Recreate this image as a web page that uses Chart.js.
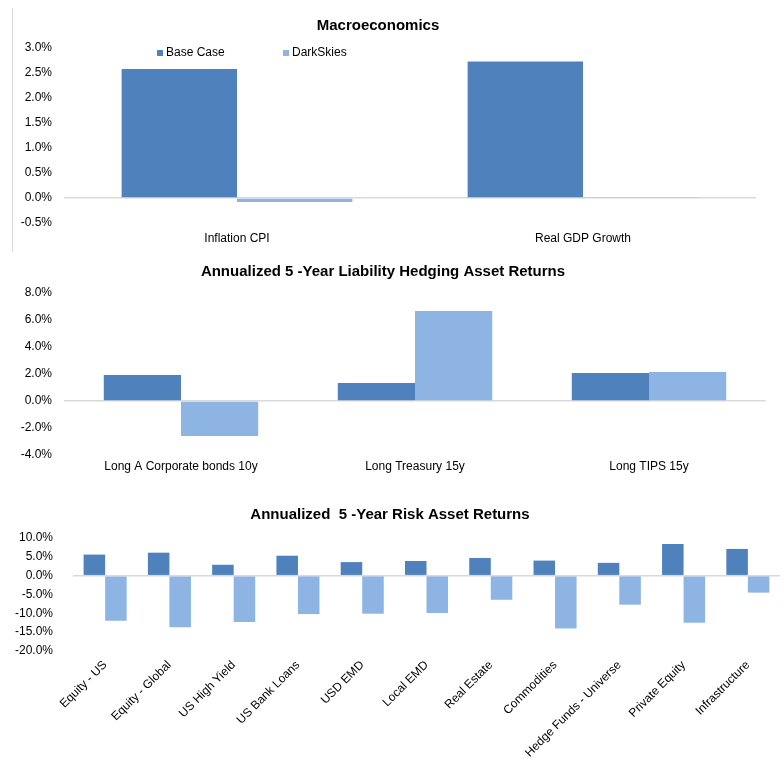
<!DOCTYPE html>
<html>
<head>
<meta charset="utf-8">
<script src="https://cdn.jsdelivr.net/npm/chart.js@4/dist/chart.umd.min.js"></script>
<style>
  html, body { margin: 0; padding: 0; background: #fff; }
  #wrap { position: relative; width: 784px; height: 760px; }
  .box { position: absolute; left: 0; width: 784px; }
  #leftRule { position: absolute; left: 12px; top: 8px; width: 1px; height: 244px; background: #d9d9d9; }
</style>
</head>
<body>
<div id="wrap">
  <div id="leftRule"></div>
  <div class="box" style="top:0;height:250px"><canvas id="macroChart"></canvas></div>
  <div class="box" style="top:250px;height:235px"><canvas id="hedgeChart"></canvas></div>
  <div class="box" style="top:490px;height:270px"><canvas id="riskChart"></canvas></div>
</div>
<script>
// 图例 / 系列名称
const seriesNames = ['Base Case', 'DarkSkies'];
const seriesColors = ['#4f81bd', '#8eb4e3'];

// Macroeconomics
const macroCategories = ['Inflation CPI', 'Real GDP Growth'];
const macroBase = [2.58, 2.73];
const macroDark = [-0.08, 0.02];

// Liability hedging asset returns
const hedgeCategories = ['Long A Corporate bonds 10y', 'Long Treasury 15y', 'Long TIPS 15y'];
const hedgeBase = [1.93, 1.33, 2.07];
const hedgeDark = [-2.6, 6.67, 2.15];

// Risk asset returns
const riskCategories = ['Equity - US', 'Equity - Global', 'US High Yield', 'US Bank Loans', 'USD EMD',
  'Local EMD', 'Real Estate', 'Commodities', 'Hedge Funds - Universe', 'Private Equity', 'Infrastructure'];
const riskBase = [5.6, 6.1, 2.9, 5.3, 3.6, 3.9, 4.7, 4.0, 3.4, 8.4, 7.1];
const riskDark = [-12.0, -13.7, -12.3, -10.2, -10.1, -9.9, -6.4, -14.0, -7.7, -12.5, -4.5];

const FONT = "'Liberation Sans Narrow', 'Arial Narrow', 'Liberation Sans', Arial, sans-serif";
Chart.defaults.font.family = FONT;
Chart.defaults.color = '#000';

// 图例画在绘图区内部（左上方）
const insideLegend = {
  id: 'insideLegend',
  afterDraw(chart, args, opts) {
    if (!opts.show) return;
    const ctx = chart.ctx;
    const y = chart.chartArea.top + 5;
    ctx.save();
    ctx.font = '12px ' + FONT;
    ctx.textBaseline = 'middle';
    chart.data.datasets.forEach((ds, i) => {
      const x = opts.x[i];
      ctx.fillStyle = ds.backgroundColor;
      ctx.fillRect(x, y - 3, 6, 6);
      ctx.fillStyle = '#000';
      ctx.fillText(ds.label, x + 9, y);
    });
    ctx.restore();
  }
};

const makeChart = (id, cfg) => {
  const datasets = [cfg.base, cfg.dark].map((values, i) => ({
    label: seriesNames[i],
    data: values,
    backgroundColor: seriesColors[i],
    borderWidth: 0,
    categoryPercentage: cfg.catPct,
    barPercentage: 1.0
  }));

  return new Chart(document.getElementById(id).getContext('2d'), {
    type: 'bar',
    data: { labels: cfg.labels, datasets },
    plugins: [insideLegend],
    options: {
      responsive: true,
      maintainAspectRatio: false,
      animation: false,
      layout: { padding: { left: 0, right: cfg.padRight, top: 0, bottom: 0 } },
      plugins: {
        legend: { display: false },
        tooltip: { enabled: false },
        insideLegend: { show: !!cfg.legendX, x: cfg.legendX || [] },
        title: {
          display: true,
          text: cfg.title,
          font: { size: 15, weight: 'bold', family: FONT },
          color: '#000',
          padding: { top: cfg.titleTop, bottom: cfg.titleBottom }
        }
      },
      scales: {
        x: {
          grid: { display: false, drawTicks: false },
          border: { display: false },
          ticks: {
            font: { size: 12 },
            padding: cfg.xPad,
            autoSkip: false,
            maxRotation: cfg.rot,
            minRotation: cfg.rot
          },
          afterFit: (scale) => { scale.height = cfg.xHeight; }
        },
        y: {
          min: cfg.yMin,
          max: cfg.yMax,
          border: { display: false },
          grid: {
            drawTicks: false,
            color: (c) => (c.tick && c.tick.value === 0 ? '#d9d9d9' : 'rgba(0,0,0,0)'),
            lineWidth: 1.5
          },
          ticks: {
            stepSize: cfg.step,
            font: { size: 12 },
            padding: cfg.yPad,
            callback: (v) => v.toFixed(1) + '%'
          },
          afterFit: (scale) => { scale.width = cfg.plotLeft; }
        }
      }
    }
  });
};

makeChart('macroChart', {
  title: 'Macroeconomics',
  labels: macroCategories, base: macroBase, dark: macroDark,
  catPct: 0.667, yMin: -0.5, yMax: 3.0, step: 0.5,
  plotLeft: 64, padRight: 28, yPad: 12,
  titleTop: 17, titleBottom: 13,
  xHeight: 27, xPad: 8, rot: 0,
  legendX: [157, 283]
});

makeChart('hedgeChart', {
  title: 'Annualized 5 -Year Liability Hedging Asset Returns',
  labels: hedgeCategories, base: hedgeBase, dark: hedgeDark,
  catPct: 0.66, yMin: -4, yMax: 8, step: 2,
  plotLeft: 64, padRight: 18, yPad: 12,
  titleTop: 13, titleBottom: 12,
  xHeight: 30, xPad: 4, rot: 0
});

makeChart('riskChart', {
  title: 'Annualized  5 -Year Risk Asset Returns',
  labels: riskCategories, base: riskBase, dark: riskDark,
  catPct: 0.67, yMin: -20, yMax: 10, step: 5,
  plotLeft: 73, padRight: 4, yPad: 20,
  titleTop: 16, titleBottom: 14,
  xHeight: 109, xPad: 7, rot: 45
});
</script>
</body>
</html>
